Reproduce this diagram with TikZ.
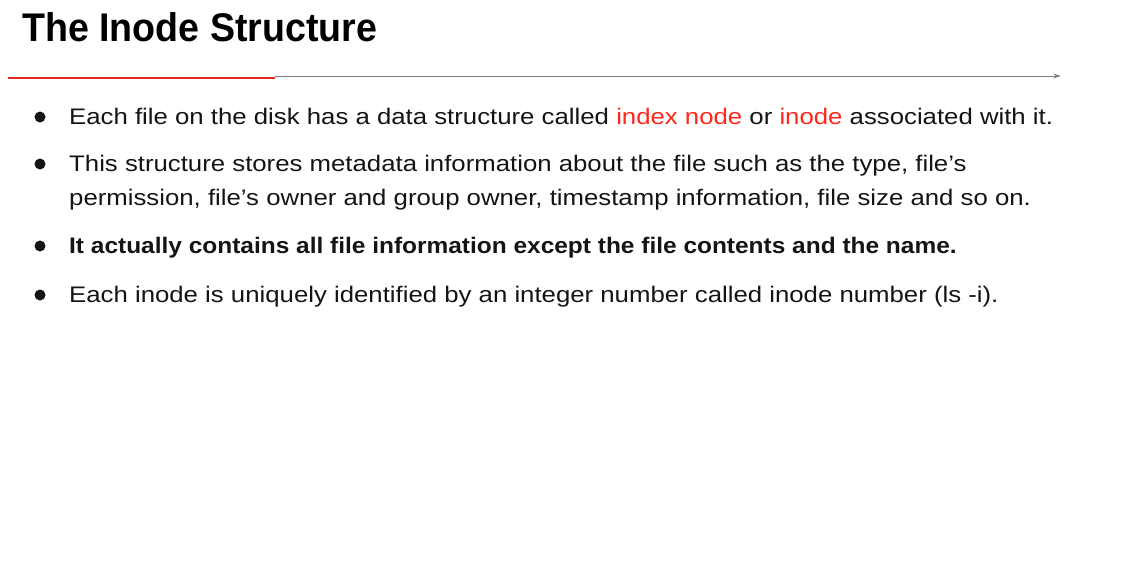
\documentclass[tikz,border=0pt]{standalone}
\usepackage{fontspec}
\setmainfont{Liberation Sans}
\newfontfamily\bodyfont[FakeStretch=1.145]{Liberation Sans}
\newfontfamily\boldbodyfont[FakeStretch=1.087]{Liberation Sans}
\newfontfamily\titlefont[FakeStretch=0.94]{Liberation Sans}
\usetikzlibrary{arrows.meta}
\definecolor{hlred}{RGB}{255,38,26}
\definecolor{rulered}{RGB}{225,40,30}
\definecolor{rulegray}{RGB}{128,128,128}
\definecolor{txt}{RGB}{20,20,20}
\tikzset{
  bodytext/.style={anchor=base west, inner sep=0pt, font=\bodyfont\fontsize{22.5}{26}\selectfont, text=txt},
  boldtext/.style={bodytext, font=\boldbodyfont\fontsize{22.5}{26}\selectfont\bfseries},
  bul/.style={circle, fill=txt, inner sep=0pt, minimum size=11pt},
  titletext/.style={anchor=base west, inner sep=0pt, font=\titlefont\fontsize{40}{46}\selectfont\bfseries, text=black},
}
\begin{document}
\begin{tikzpicture}[x=1pt,y=1pt]
\useasboundingbox (0,0) rectangle (1137,-578);
\node[titletext] (title) at (22,-42) {The Inode Structure};
\coordinate (r0) at (8,-77.8);
\coordinate (r1) at (275,-77.8);
\coordinate (g0) at (275,-76);
\coordinate (g1) at (1061,-76);
\draw[rulered, line width=1.4pt] (r0) -- (r1);
\draw[rulegray, line width=1pt, -{Stealth[length=8pt,width=5pt]}] (g0) -- (g1);
\node[bul] (b1) at (40,-117) {};
\node[bodytext] (l1) at (69,-124.5) {Each file on the disk has a data structure called \textcolor{hlred}{index node} or \textcolor{hlred}{inode} associated with it.};
\node[bul] (b2) at (40,-164) {};
\node[bodytext] (l2a) at (69,-171.5) {This structure stores metadata information about the file such as the type, file’s};
\node[bodytext] (l2b) at (69,-205.5) {permission, file’s owner and group owner, timestamp information, file size and so on.};
\node[bul] (b3) at (40,-246) {};
\node[boldtext] (l3) at (69,-253.5) {It actually contains all file information except the file contents and the name.};
\node[bul] (b4) at (40,-295) {};
\node[bodytext] (l4) at (69,-302.5) {Each inode is uniquely identified by an integer number called inode number (ls -i).};
\end{tikzpicture}
\end{document}
